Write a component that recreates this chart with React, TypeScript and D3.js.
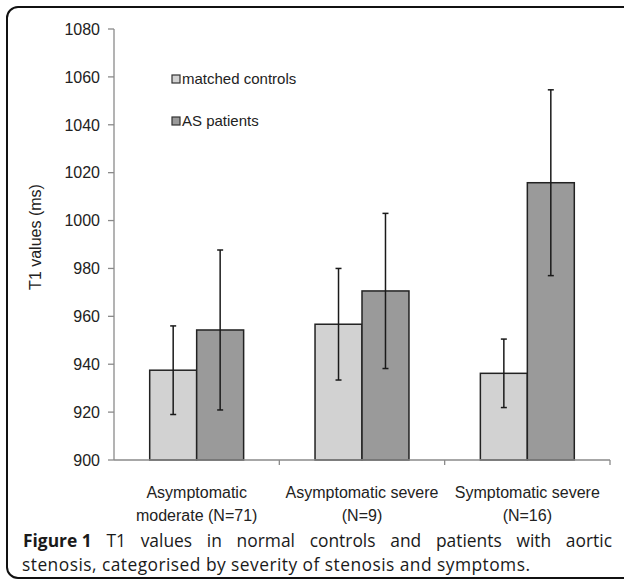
import { useMemo } from "react";
import { scaleBand, scaleLinear } from "d3";

// chart values
const categories = ["Asymptomatic\nmoderate (N=71)", "Asymptomatic severe\n(N=9)", "Symptomatic severe\n(N=16)"];
const seriesNames = ["matched controls", "AS patients"];
const controlMeans = [937.5, 956.7, 936.2];
const controlSd = [18.5, 23.3, 14.3];
const patientMeans = [954.3, 970.6, 1015.8];
const patientSd = [33.4, 32.4, 38.8];
const yTicks = [900, 920, 940, 960, 980, 1000, 1020, 1040, 1060, 1080];
const captionBold = "Figure 1";
const captionLine1 = "T1 values in normal controls and patients with aortic";
const captionLine2 = "stenosis, categorised by severity of stenosis and symptoms.";

const W = 624;
const H = 581;
const fills = ["#d2d2d2", "#9a9a9a"];
const chartFont = "'Liberation Sans', Arial, sans-serif";
const capFont = "'Open Sans', 'Noto Sans', sans-serif";
const capSize = 17.4;

let ctx: CanvasRenderingContext2D | null = null;
function measure(text: string, font: string) {
  if (!ctx) ctx = document.createElement("canvas").getContext("2d");
  if (!ctx) return text.length * 7;
  ctx.font = font;
  return ctx.measureText(text).width;
}

export default function App() {
  const x = scaleBand<string>().domain(categories).range([114, 610]).padding(0);
  const sub = scaleBand<string>().domain(seriesNames).range([0, x.bandwidth()]).paddingInner(0).paddingOuter(0.76);
  const y = scaleLinear().domain([900, 1080]).range([460, 29]);

  const series = [
    { name: seriesNames[0], means: controlMeans, sd: controlSd, fill: fills[0] },
    { name: seriesNames[1], means: patientMeans, sd: patientSd, fill: fills[1] },
  ];

  // first caption line justified word by word
  const line1 = useMemo(() => {
    const left = 23, right = 612;
    const boldFont = `bold ${capSize}px 'Open Sans'`;
    const regFont = `${capSize}px 'Open Sans'`;
    const words = [
      { t: captionBold, bold: true },
      ...captionLine1.split(" ").map((t) => ({ t, bold: false })),
    ];
    const widths = words.map((w) => measure(w.t, w.bold ? boldFont : regFont));
    const total = widths.reduce((a, b) => a + b, 0);
    const gap = (right - left - total) / (words.length - 1);
    let cx = left;
    return words.map((w, i) => {
      const pos = cx;
      cx += widths[i] + gap;
      return { ...w, x: pos };
    });
  }, []);

  return (
    <svg width={W} height={H} style={{ position: "absolute", left: 0, top: 0 }}>
      <rect x={0} y={0} width={W} height={H} fill="#fff" />
      <rect x={7} y={7} width={W + 10} height={571} rx={11} fill="none" stroke="#111" strokeWidth={2} />

      {/* y axis */}
      <g fontFamily={chartFont} fontSize={16} fill="#222">
        <line x1={114} x2={114} y1={y(1080)} y2={y(900)} stroke="#8a8a8a" strokeWidth={1.3} />
        {yTicks.map((t) => (
          <g key={t}>
            <line x1={108} x2={114} y1={y(t)} y2={y(t)} stroke="#8a8a8a" strokeWidth={1.3} />
            <text x={100} y={y(t)} dy="0.36em" textAnchor="end">{t}</text>
          </g>
        ))}
        <text transform={`translate(41,237) rotate(-90)`} textAnchor="middle">T1 values (ms)</text>
      </g>

      {/* bars */}
      {series.map((s) => (
        <g key={s.name}>
          {categories.map((c, i) => (
            <rect
              key={c}
              x={(x(c) ?? 0) + (sub(s.name) ?? 0)}
              y={y(s.means[i])}
              width={sub.bandwidth()}
              height={y(900) - y(s.means[i])}
              fill={s.fill}
              stroke="#222"
              strokeWidth={1.5}
            />
          ))}
        </g>
      ))}

      {/* error bars */}
      {series.map((s) => (
        <g key={s.name + "-err"} stroke="#1a1a1a" strokeWidth={1.5}>
          {categories.map((c, i) => {
            const cx = (x(c) ?? 0) + (sub(s.name) ?? 0) + sub.bandwidth() / 2;
            const hi = y(s.means[i] + s.sd[i]);
            const lo = y(s.means[i] - s.sd[i]);
            return (
              <g key={c}>
                <line x1={cx} x2={cx} y1={hi} y2={lo} />
                <line x1={cx - 3} x2={cx + 3} y1={hi} y2={hi} />
                <line x1={cx - 3} x2={cx + 3} y1={lo} y2={lo} />
              </g>
            );
          })}
        </g>
      ))}

      {/* x axis */}
      <g fontFamily={chartFont} fontSize={16} fill="#222">
        <line x1={114} x2={610} y1={460} y2={460} stroke="#8a8a8a" strokeWidth={1.3} />
        {categories.slice(1).map((c) => (
          <line key={c} x1={x(c)} x2={x(c)} y1={460} y2={465} stroke="#8a8a8a" strokeWidth={1.3} />
        ))}
        <line x1={610} x2={610} y1={460} y2={465} stroke="#8a8a8a" strokeWidth={1.3} />
        {categories.map((c) => (
          <text key={c} x={(x(c) ?? 0) + x.bandwidth() / 2} textAnchor="middle">
            {c.split("\n").map((ln, j) => (
              <tspan key={j} x={(x(c) ?? 0) + x.bandwidth() / 2} y={498 + j * 23}>{ln}</tspan>
            ))}
          </text>
        ))}
      </g>

      {/* legend */}
      <g fontFamily={chartFont} fontSize={15} fill="#222">
        {series.map((s, i) => (
          <g key={s.name} transform={`translate(172,${75 + i * 42})`}>
            <rect x={0} y={0} width={8} height={8} fill={s.fill} stroke="#333" strokeWidth={1.2} />
            <text x={10} y={9}>{s.name}</text>
          </g>
        ))}
      </g>

      {/* caption */}
      <g fontFamily={capFont} fontSize={capSize} fill="#1a1a1a">
        <text y={547}>
          {line1.map((w, i) => (
            <tspan key={i} x={w.x} fontWeight={w.bold ? "bold" : "normal"}>{w.t}</tspan>
          ))}
        </text>
        <text x={22} y={571} textLength={508} lengthAdjust="spacing">{captionLine2}</text>
      </g>
    </svg>
  );
}
